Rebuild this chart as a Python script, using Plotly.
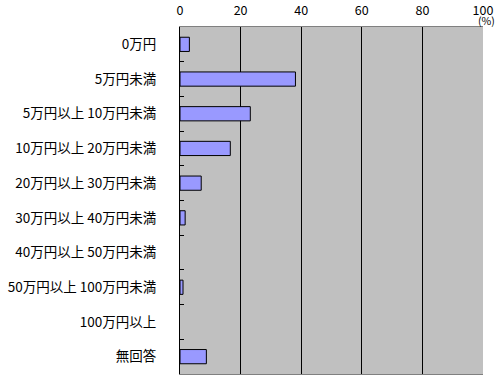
import plotly.graph_objects as go

categories = ["0万円", "5万円未満", "5万円以上 10万円未満", "10万円以上 20万円未満",
              "20万円以上 30万円未満", "30万円以上 40万円未満", "40万円以上 50万円未満",
              "50万円以上 100万円未満", "100万円以上", "無回答"]
values = [3.1, 38.1, 23.2, 16.6, 7.0, 1.7, 0.0, 1.0, 0.0, 8.7]
x_ticks = [0, 20, 40, 60, 80, 100]

FONT = "Noto Sans CJK JP"

fig = go.Figure(go.Bar(
    x=values, y=categories, orientation="h",
    marker=dict(color="#9999FF",
                line=dict(color="black", width=[1 if v > 0 else 0 for v in values])),
    width=0.41,
))

fig.update_layout(
    width=500, height=377,
    margin=dict(l=180, r=17, t=27, b=3),
    paper_bgcolor="white", plot_bgcolor="#C0C0C0",
    showlegend=False,
    font=dict(family=FONT, size=12, color="black"),
    xaxis=dict(side="top", range=[0, 100], tickvals=x_ticks, ticktext=[str(v) for v in x_ticks],
               showgrid=True, gridcolor="black", gridwidth=1, zeroline=False,
               ticks="", showline=True, linecolor="#808080", linewidth=1, mirror=True,
               automargin=False,
               tickfont=dict(size=12.5, family=FONT), ticklabelstandoff=6),
    yaxis=dict(autorange="reversed", type="category", showgrid=False, zeroline=False,
               showline=True, linecolor="black", linewidth=1, automargin=False,
               ticks="inside", ticklen=4, tickcolor="black", tickson="boundaries",
               tickfont=dict(size=13.5, family=FONT), ticklabelstandoff=20),
    annotations=[dict(text="(%)", x=100, y=1, xref="x", yref="paper", xanchor="center",
                      yanchor="middle", yshift=7, xshift=3, showarrow=False,
                      font=dict(size=10.5, family=FONT))],
)

fig.write_html("out.html", config={"displayModeBar": False},
               post_script="document.body.style.margin='0';document.body.style.overflow='hidden';")
